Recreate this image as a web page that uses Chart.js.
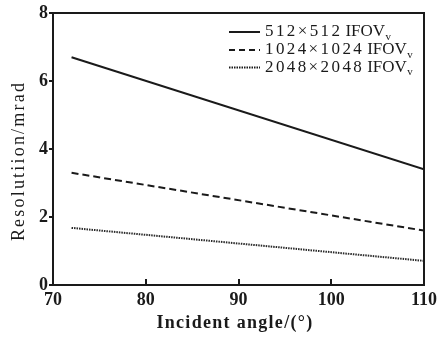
<!DOCTYPE html>
<html>
<head>
<meta charset="utf-8">
<script src="https://cdn.jsdelivr.net/npm/chart.js@4.4.1/dist/chart.umd.min.js"></script>
<style>
  html, body { margin: 0; padding: 0; background: #fff; }
  #wrap { width: 438px; height: 341px; position: relative; }
</style>
</head>
<body>
<div id="wrap"><canvas id="c" width="438" height="341"></canvas></div>
<script>
// ---- data ----
const incidentAngles = [72, 110];
const res512 = [6.7, 3.4];
const res1024 = [3.3, 1.6];
const res2048 = [1.68, 0.71];
const seriesNames = ["512×512", "1024×1024", "2048×2048"];
const seriesSuffix = "IFOV";
const seriesSub = "v";
const xTicks = [70, 80, 90, 100, 110];
const yTicks = [0, 2, 4, 6, 8];
const xTitle = "Incident angle/(°)";
const yTitle = "Resolutiion/mrad";

const INK = '#1a1a1a';
const pts = (ys) => incidentAngles.map((x, i) => ({ x: x, y: ys[i] }));

const framePlugin = {
  id: 'frame',
  afterDraw(chart) {
    const ctx = chart.ctx;
    const a = chart.chartArea;
    const xs = chart.scales.x;
    ctx.save();
    // box
    ctx.strokeStyle = INK;
    ctx.lineWidth = 2;
    ctx.strokeRect(a.left, a.top, a.right - a.left, a.bottom - a.top);
    // inward x ticks
    ctx.lineWidth = 2;
    xTicks.forEach(v => {
      if (v === xs.min || v === xs.max) return;
      const px = Math.round(xs.getPixelForValue(v));
      ctx.beginPath();
      ctx.moveTo(px, a.bottom);
      ctx.lineTo(px, a.bottom - 6);
      ctx.stroke();
    });

    // axis titles
    ctx.fillStyle = INK;
    ctx.textAlign = 'center';
    ctx.textBaseline = 'middle';
    ctx.font = 'bold 18px "Liberation Serif"';
    ctx.letterSpacing = '1.3px';
    ctx.fillText(xTitle, 235, 323);
    ctx.save();
    ctx.translate(19, 161);
    ctx.rotate(-Math.PI / 2);
    ctx.font = '18px "Liberation Serif"';
    ctx.letterSpacing = '2.2px';
    ctx.fillText(yTitle, 0, 0);
    ctx.restore();

    // legend
    const rows = [32, 50, 67.5];
    const dashes = [[], [6, 4], [1.5, 1]];
    ctx.textAlign = 'left';
    ctx.textBaseline = 'middle';
    rows.forEach((y, i) => {
      ctx.beginPath();
      ctx.setLineDash(dashes[i]);
      ctx.lineWidth = 2;
      ctx.strokeStyle = INK;
      ctx.moveTo(229, y);
      ctx.lineTo(260, y);
      ctx.stroke();
      ctx.setLineDash([]);
      let x = 265;
      ctx.font = '17px "Liberation Serif"';
      ctx.letterSpacing = '2.4px';
      ctx.fillText(seriesNames[i], x, y);
      x += ctx.measureText(seriesNames[i]).width + 3;
      ctx.letterSpacing = '0px';
      ctx.fillText(seriesSuffix, x, y);
      x += ctx.measureText(seriesSuffix).width + 0.5;
      ctx.font = '11px "Liberation Serif"';
      ctx.fillText(seriesSub, x, y + 5);
    });
    ctx.restore();
  }
};

new Chart(document.getElementById('c'), {
  type: 'line',
  data: {
    datasets: [
      { label: seriesNames[0] + ' ' + seriesSuffix + seriesSub, data: pts(res512),
        borderColor: INK, borderWidth: 2, pointRadius: 0, tension: 0 },
      { label: seriesNames[1] + ' ' + seriesSuffix + seriesSub, data: pts(res1024),
        borderColor: INK, borderWidth: 2, borderDash: [7, 4], pointRadius: 0, tension: 0 },
      { label: seriesNames[2] + ' ' + seriesSuffix + seriesSub, data: pts(res2048),
        borderColor: '#2a2a2a', borderWidth: 2, borderDash: [1.5, 1], pointRadius: 0, tension: 0 }
    ]
  },
  options: {
    responsive: false,
    animation: false,
    layout: { padding: { top: 13, right: 14, left: 0, bottom: 0 } },
    plugins: { legend: { display: false }, tooltip: { enabled: false } },
    scales: {
      x: {
        type: 'linear', min: 70, max: 110,
        afterBuildTicks: (s) => { s.ticks = xTicks.map(v => ({ value: v })); },
        afterFit: (s) => { s.height = 56; },
        grid: { display: false },
        border: { display: true, color: INK, width: 2 },
        ticks: { color: INK, padding: -3, maxRotation: 0, autoSkip: false,
                 font: { family: '"Liberation Serif"', size: 18, weight: 'bold' } },
        title: { display: false, text: xTitle }
      },
      y: {
        min: 0, max: 8,
        afterBuildTicks: (s) => { s.ticks = yTicks.map(v => ({ value: v })); },
        afterFit: (s) => { s.width = 53; },
        grid: { drawOnChartArea: false, drawTicks: true, tickLength: 4, color: INK, lineWidth: 2 },
        border: { display: true, color: INK, width: 2 },
        ticks: { color: INK, padding: 1,
                 font: { family: '"Liberation Serif"', size: 18, weight: 'bold' } },
        title: { display: false, text: yTitle }
      }
    }
  },
  plugins: [framePlugin]
});
</script>
</body>
</html>
